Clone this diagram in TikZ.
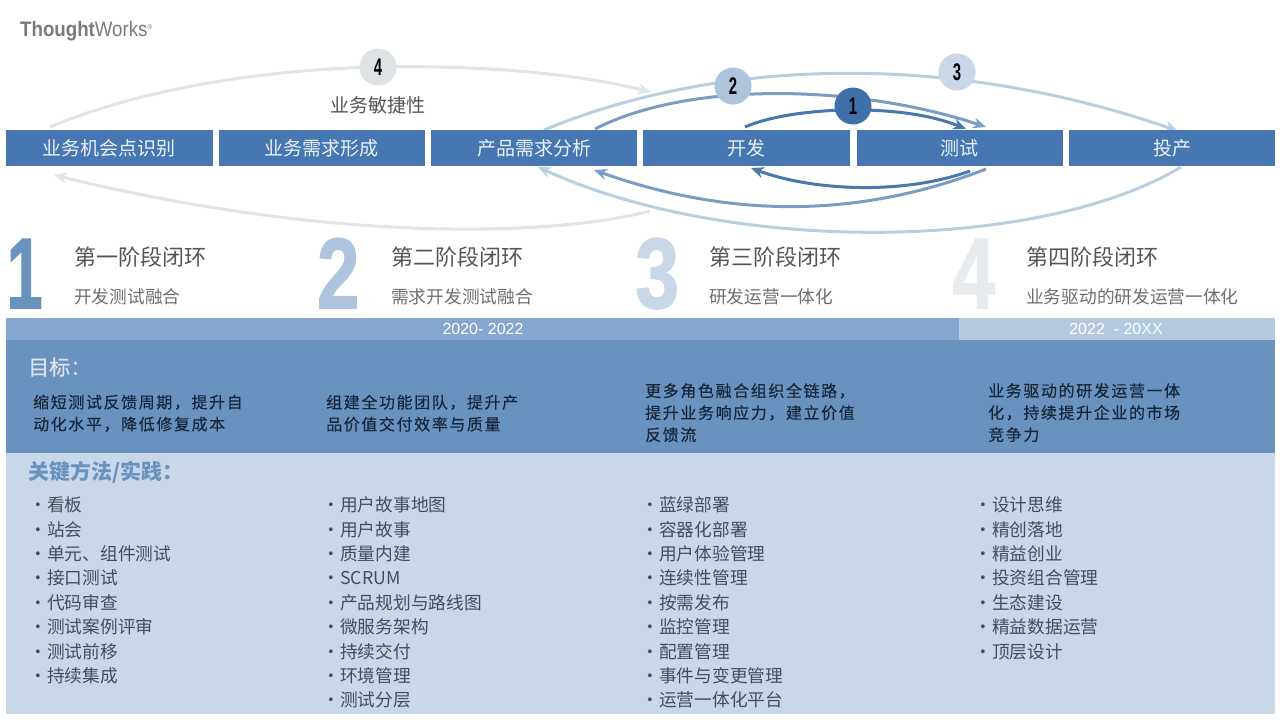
\documentclass[tikz,border=0pt]{standalone}
\usepackage{fontspec}
\setmainfont{Noto Sans CJK SC}
\newfontfamily\arialf{Liberation Sans}
\usetikzlibrary{arrows.meta,backgrounds}
\newcommand\pxf[1]{\fontsize{#1}{#1}\selectfont}
\newcommand\qcomma{\symbol{"FF0C}}
\newcommand\qcolon{\symbol{"FF1A}}
\definecolor{boxblue}{HTML}{4677B2}
\definecolor{c1}{HTML}{4A78AC}
\definecolor{c2}{HTML}{7C9DC3}
\definecolor{c3}{HTML}{BACEE2}
\definecolor{c4}{HTML}{E0E5E8}
\definecolor{cn1}{HTML}{3F70AA}
\definecolor{cn2}{HTML}{AEC3DC}
\definecolor{cn3}{HTML}{C8D8E8}
\definecolor{cn4}{HTML}{DDE2E4}
\definecolor{big1}{HTML}{6A92BE}
\definecolor{big2}{HTML}{AEC4DE}
\definecolor{big3}{HTML}{C8D8E8}
\definecolor{big4}{HTML}{E8EBEE}
\definecolor{tline}{HTML}{85A6CE}
\definecolor{tline2}{HTML}{B4C9E0}
\definecolor{goalbg}{HTML}{6A92BE}
\definecolor{listbg}{HTML}{C8D8E8}
\definecolor{txt}{HTML}{555555}
\definecolor{itemtxt}{HTML}{444E5A}
\definecolor{goaltxt}{HTML}{16263A}
\tikzset{
  stagebox/.style={fill=boxblue,draw=none,minimum width=#1,minimum height=36pt,inner sep=0pt,text=white!90!boxblue,font=\pxf{19}},
  ring/.style={circle,fill=#1,draw=none,minimum size=37pt,inner sep=0pt,text=black,font=\arialf\bfseries\pxf{24}},
  loop/.style={line width=#1,-{Stealth[length=13pt,width=11pt]}},
  bignum/.style={anchor=base west,inner sep=0pt,font=\arialf\bfseries\pxf{100}\addfontfeature{FakeBold=1.5}},
  title/.style={anchor=west,inner sep=0pt,text=txt,font=\pxf{22}},
  subtitle/.style={anchor=west,inner sep=0pt,text=txt!85,font=\pxf{17.7}},
  goal/.style={anchor=north west,inner sep=0pt,align=left,text=goaltxt,font=\fontsize{16}{22}\selectfont\addfontfeature{LetterSpace=10,FakeBold=0.2}},
  item/.style={anchor=west,inner sep=0pt,text=itemtxt,font=\pxf{17.7}},
  band/.style={draw=none,inner sep=0pt,anchor=north west}
}
\begin{document}
\begin{tikzpicture}[x=1pt,y=-1pt]
\useasboundingbox (0,0) rectangle (1280,720);
% logo
\node[anchor=west,inner sep=0pt,text=black!52,font=\arialf\pxf{21},xscale=.89] (logo) at (20,31) {\textbf{Thought}Works\raisebox{7pt}{\pxf{7}®}};
% stage boxes
\node[stagebox=206.5pt] (b1) at (109.3,148) {业务机会点识别};
\node[stagebox=206.5pt] (b2) at (321.8,148) {业务需求形成};
\node[stagebox=206.5pt] (b3) at (534,148) {产品需求分析};
\node[stagebox=206.5pt] (b4) at (746.5,148) {开发};
\node[stagebox=206pt] (b5) at (959.5,148) {测试};
\node[stagebox=206pt] (b6) at (1172,148) {投产};
% ring nodes
\node[ring=cn4] (n4) at (378,67) {\scalebox{.62}[1]{4}};
\node[ring=cn2] (n2) at (733,86) {\scalebox{.62}[1]{2}};
\node[ring=cn3] (n3) at (957,72) {\scalebox{.62}[1]{3}};
\node[ring=cn1] (n1) at (853,106) {\scalebox{.62}[1]{1}};
\node[inner sep=0pt,text=txt,font=\pxf{19}] (agile) at (378,105) {业务敏捷性};
% connector ends
\coordinate (s4a) at (50,127); \coordinate (e4a) at (651,92);
\coordinate (s4b) at (650,211); \coordinate (e4b) at (54,175);
\coordinate (s3a) at (544,130); \coordinate (e3a) at (1178,131);
\coordinate (s3b) at (1181,167); \coordinate (e3b) at (538,167);
\coordinate (s2a) at (595,129); \coordinate (e2a) at (986,127);
\coordinate (s2b) at (986,169); \coordinate (e2b) at (594,170);
\coordinate (s1a) at (745,127); \coordinate (e1a) at (966,129);
\coordinate (s1b) at (970,171); \coordinate (e1b) at (751,168);
\begin{scope}[on background layer]
\draw[c4,line width=3pt] (s4a) .. controls (150,85) and (280,69) .. (n4.center);
\draw[c4,loop=3pt] (n4.center) .. controls (470,65) and (570,72) .. (e4a);
\draw[c4,loop=3pt] (s4b) .. controls (560,235) and (340,245) .. (e4b);
\draw[c3,loop=3pt] (s3a) .. controls (700,65) and (930,45) .. (e3a);
\draw[c3,loop=3pt] (s3b) .. controls (1040,252) and (730,255) .. (e3b);
\draw[c2,loop=3pt] (s2a) .. controls (690,80) and (860,85) .. (e2a);
\draw[c2,loop=3pt] (s2b) .. controls (850,222) and (720,215) .. (e2b);
\draw[c1,loop=3pt] (s1a) .. controls (790,107) and (900,102) .. (e1a);
\draw[c1,loop=3pt] (s1b) .. controls (900,196) and (810,190) .. (e1b);
\end{scope}
% big numerals and titles
\node[bignum,text=big1,xscale=.65] (d1) at (6.5,308) {1};
\node[bignum,text=big2,xscale=.76] (d2) at (317,308) {2};
\node[bignum,text=big3,xscale=.79] (d3) at (635,308) {3};
\node[bignum,text=big4,xscale=.77] (d4) at (952,308) {4};
\node[title] (t1) at (74,257) {第一阶段闭环};
\node[title] (t2) at (391,257) {第二阶段闭环};
\node[title] (t3) at (709,257) {第三阶段闭环};
\node[title] (t4) at (1026,257) {第四阶段闭环};
\node[subtitle] (u1) at (74,297) {开发测试融合};
\node[subtitle] (u2) at (391,297) {需求开发测试融合};
\node[subtitle] (u3) at (709,297) {研发运营一体化};
\node[subtitle] (u4) at (1026,297) {业务驱动的研发运营一体化};
% bands
\node[band,fill=tline,minimum width=953pt,minimum height=22pt] (tl1) at (6,318) {};
\node[band,fill=tline2,minimum width=316pt,minimum height=22pt] (tl2) at (959,318) {};
\node[inner sep=0pt,text=white,font=\arialf\pxf{16}] (y1) at (483,329) {2020- 2022};
\node[inner sep=0pt,text=white,font=\arialf\pxf{16}] (y2) at (1116,329) {2022 \ - 20XX};
\node[band,fill=goalbg,minimum width=1269pt,minimum height=113pt] (goalpanel) at (6,340) {};
\node[band,fill=listbg,minimum width=1269pt,minimum height=261pt] (listpanel) at (6,453) {};
% headings
\node[anchor=west,inner sep=0pt,text=white!75!goalbg,font=\pxf{21}\addfontfeature{FakeBold=0.5}] (h1) at (28,367) {目标\qcolon{}};
\node[anchor=west,inner sep=0pt,text=big1,font=\bfseries\pxf{21}] (h2) at (28,472) {关键方法/实践\qcolon{}};
% goals
\node[goal] (g1) at (33,394.5) {缩短测试反馈周期\qcomma{}提升自\\动化水平\qcomma{}降低修复成本};
\node[goal] (g2) at (326,394.5) {组建全功能团队\qcomma{}提升产\\品价值交付效率与质量};
\node[goal] (g3) at (645,383) {更多角色融合组织全链路\qcomma{}\\提升业务响应力\qcomma{}建立价值\\反馈流};
\node[goal] (g4) at (988,383) {业务驱动的研发运营一体\\化\qcomma{}持续提升企业的市场\\竞争力};
% lists
\foreach \t [count=\i] in {看板,站会,{单元、组件测试},接口测试,代码审查,测试案例评审,测试前移,持续集成}{
  \pgfmathsetmacro\yy{505+(\i-1)*24.4}
  \node[item,name=la\i] at (29.3,\yy) {・\t};
}
\foreach \t [count=\i] in {用户故事地图,用户故事,质量内建,SCRUM,产品规划与路线图,微服务架构,持续交付,环境管理,测试分层}{
  \pgfmathsetmacro\yy{505+(\i-1)*24.4}
  \node[item,name=lb\i] at (322.3,\yy) {・\t};
}
\foreach \t [count=\i] in {蓝绿部署,容器化部署,用户体验管理,连续性管理,按需发布,监控管理,配置管理,事件与变更管理,运营一体化平台}{
  \pgfmathsetmacro\yy{505+(\i-1)*24.4}
  \node[item,name=lc\i] at (641.3,\yy) {・\t};
}
\foreach \t [count=\i] in {设计思维,精创落地,精益创业,投资组合管理,生态建设,精益数据运营,顶层设计}{
  \pgfmathsetmacro\yy{505+(\i-1)*24.4}
  \node[item,name=ld\i] at (974.3,\yy) {・\t};
}
\end{tikzpicture}
\end{document}
